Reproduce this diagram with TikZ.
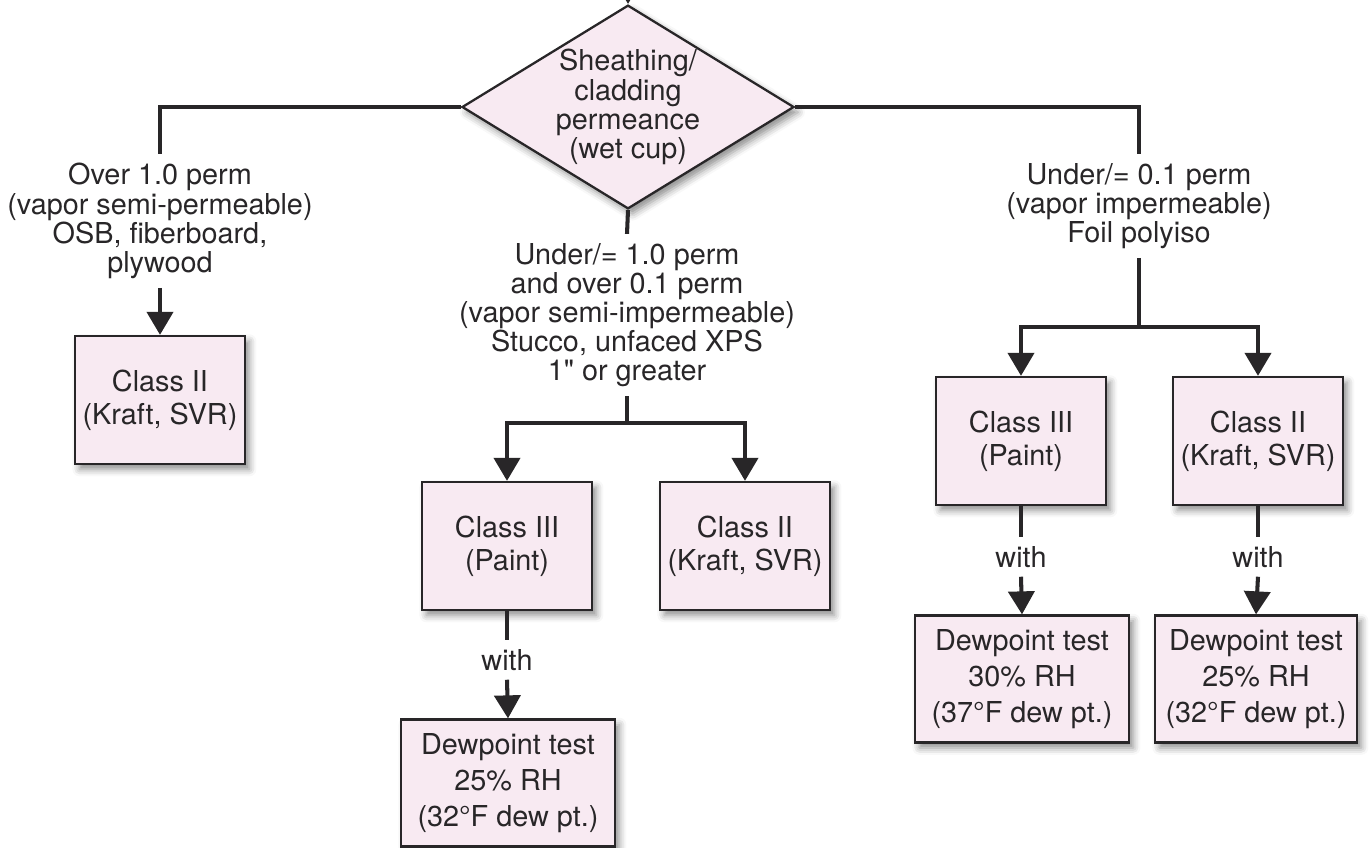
\documentclass[tikz,border=0pt]{standalone}
\usepackage{fontspec}
\setmainfont{TeX Gyre Heros}
\newfontfamily\plainheros{TeX Gyre Heros}[Ligatures=ResetAll]
\usetikzlibrary{arrows.meta,shapes.geometric,shadows.blur}

\definecolor{boxpink}{RGB}{248,234,242}
\definecolor{inkgray}{RGB}{40,38,40}

\begin{document}
\begin{tikzpicture}[
  x=0.02cm, y=-0.02cm,
  every node/.style={font=\fontsize{16.4}{16.6}\selectfont, text=inkgray},
  shade/.style={blur shadow={shadow xshift=2.5pt, shadow yshift=-3pt,
    shadow blur radius=4pt, shadow opacity=45}},
  classbox/.style={draw=inkgray, line width=1.3pt, fill=boxpink, shade,
    align=center, minimum width=3.4cm, minimum height=2.56cm,
    font=\fontsize{16.4}{18.7}\selectfont},
  dewbox/.style={classbox, minimum width=4.28cm, minimum height=2.54cm,
    font=\fontsize{16.4}{20.4}\selectfont},
  decision/.style={diamond, draw=inkgray, line width=1.3pt, fill=boxpink,
    shade, align=center, aspect=1.63, inner sep=0pt,
    minimum width=6.36cm, minimum height=3.9cm},
  lbl/.style={align=center, inner sep=5pt},
  link/.style={draw=inkgray, line width=2.3pt},
  arrow/.style={link, -{Triangle[width=0.52cm,length=0.46cm]}},
]
  \useasboundingbox (0,0) rectangle (1370,848);

  % decision
  \coordinate (top) at (628,-20);
  \node[decision] (dia) at (628,107)
    {Sheathing/\\cladding\\permeance\\(wet cup)};
  \draw[arrow] (top) -- (dia.north);

  % left branch
  \node[lbl] (leftlbl) at (160,221)
    {Over 1.0 perm\\(vapor semi-permeable)\\OSB, fiberboard,\\plywood};
  \node[classbox] (leftII) at (160,400) {Class II\\(Kraft, SVR)};
  \draw[link] (dia.west) -| (leftlbl.north);
  \draw[arrow] (leftlbl.south) -- (leftII.north);

  % middle branch
  \node[lbl] (midlbl) at (627,315)
    {Under/= 1.0 perm\\and over 0.1 perm\\(vapor semi-impermeable)\\
     Stucco, unfaced XPS\\1{\plainheros"} or greater};
  \coordinate (midfork) at (627,423);
  \node[classbox] (midIII) at (507,546) {Class III\\(Paint)};
  \node[classbox] (midII) at (745,546) {Class II\\(Kraft, SVR)};
  \node[lbl] (midwith) at (507,660) {with};
  \node[dewbox] (midDew) at (508,783)
    {Dewpoint test\\25\% RH\\(32°F dew pt.)};
  \draw[link] (dia.south) -- (midlbl.north);
  \draw[link] (midlbl.south) -- (midfork);
  \draw[arrow] (midfork) -| (midIII.north);
  \draw[arrow] (midfork) -| (midII.north);
  \draw[link] (midIII.south) -- (midwith.north);
  \draw[arrow] (midwith.south) -- (midDew.north);

  % right branch
  \node[lbl] (rightlbl) at (1139,206)
    {Under/= 0.1 perm\\(vapor impermeable)\\Foil polyiso};
  \coordinate (rfork) at (1139,327);
  \node[classbox] (rIII) at (1021,441) {Class III\\(Paint)};
  \node[classbox] (rII) at (1258,441) {Class II\\(Kraft, SVR)};
  \node[lbl] (rwithA) at (1021,557) {with};
  \node[lbl] (rwithB) at (1258,557) {with};
  \node[dewbox] (rDewA) at (1022,679)
    {Dewpoint test\\30\% RH\\(37°F dew pt.)};
  \node[dewbox, minimum width=4.04cm] (rDewB) at (1256,679)
    {Dewpoint test\\25\% RH\\(32°F dew pt.)};
  \draw[link] (dia.east) -| (rightlbl.north);
  \draw[link] (rightlbl.south) -- (rfork);
  \draw[arrow] (rfork) -| (rIII.north);
  \draw[arrow] (rfork) -| (rII.north);
  \draw[link] (rIII.south) -- (rwithA.north);
  \draw[arrow] (rwithA.south) -- (rDewA.north);
  \draw[link] (rII.south) -- (rwithB.north);
  \draw[arrow] (rwithB.south) -- (rDewB.north);
\end{tikzpicture}
\end{document}
